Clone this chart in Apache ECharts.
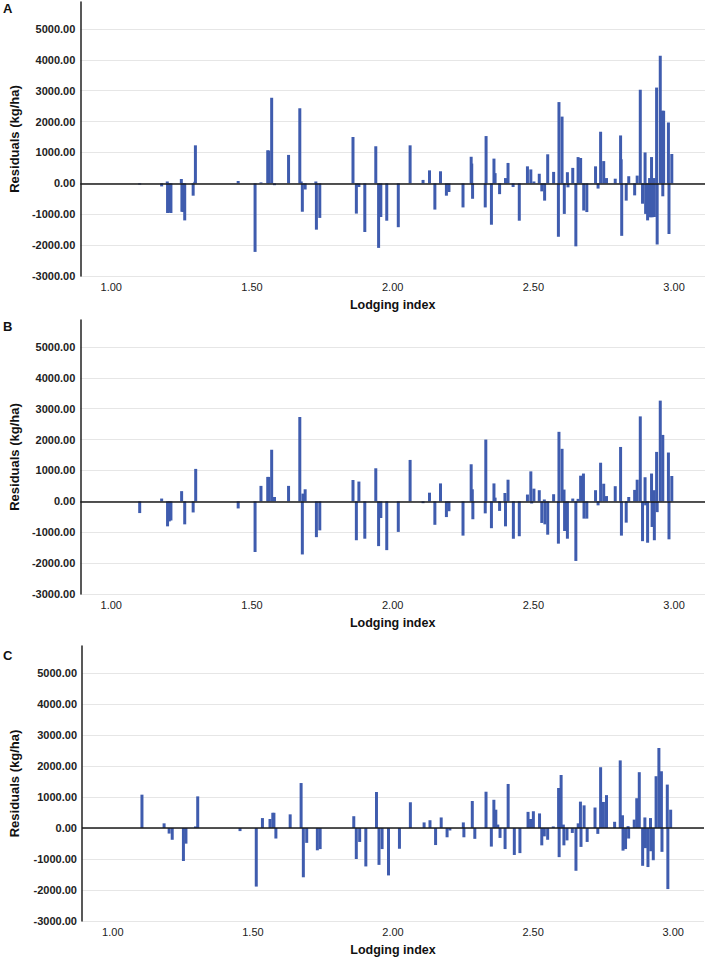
<!DOCTYPE html>
<html>
<head>
<meta charset="utf-8">
<script src="https://cdn.jsdelivr.net/npm/echarts@6/dist/echarts.min.js"></script>
<style>
  html, body { margin: 0; padding: 0; background: #fff; }
  #chart { width: 707px; height: 961px; }
</style>
</head>
<body>
<div id="chart"></div>
<script>
// x tick labels shared by all three panels
const tickValues = [1, 1.5, 2, 2.5, 3]
const panelLabels = ['A', 'B', 'C']

// Panel A
const lodgingA = [1.101, 1.179, 1.199, 1.200, 1.206, 1.212, 1.249, 1.251, 1.255, 1.261, 1.291, 1.297, 1.299, 1.451, 1.511, 1.532, 1.556, 1.560, 1.570, 1.580,
  1.630, 1.670, 1.675, 1.679, 1.689, 1.727, 1.729, 1.741, 1.859, 1.871, 1.880, 1.901, 1.940, 1.950, 1.958, 1.979, 2.020, 2.062, 2.108, 2.131,
  2.150, 2.170, 2.191, 2.200, 2.250, 2.279, 2.281, 2.284, 2.329, 2.332, 2.351, 2.360, 2.364, 2.380, 2.401, 2.410, 2.428, 2.450, 2.479, 2.491,
  2.502, 2.521, 2.530, 2.540, 2.551, 2.572, 2.589, 2.591, 2.602, 2.610, 2.621, 2.623, 2.640, 2.651, 2.659, 2.668, 2.679, 2.690, 2.721, 2.730,
  2.739, 2.750, 2.760, 2.791, 2.810, 2.812, 2.814, 2.830, 2.839, 2.860, 2.869, 2.880, 2.888, 2.897, 2.899, 2.906, 2.913, 2.914, 2.920, 2.922,
  2.929, 2.930, 2.938, 2.940, 2.951, 2.958, 2.960, 2.963, 2.980, 2.982, 2.992]
const residualA = [-40, -100, 60, -960, -950, -960, 140, -920, -930, -1200, -400, 50, 1230, 75, -2220, 30, 1070, 1060, 2770, -60,
  920, 2430, 60, -920, -200, 60, -1500, -1120, 1500, -980, -120, -1575, 1200, -2090, -1090, -1210, -1420, 1230, 110, 420,
  -850, 390, -400, -280, -780, 860, 640, -500, -780, 1530, -1340, 800, 330, -350, 170, 660, -120, -1210, 550, 450,
  60, 310, -260, -560, 940, 370, -1730, 2630, 2160, -990, 360, -130, 500, -2040, 850, 820, -880, -930, 550, -170,
  1670, 720, 170, 150, 1550, 780, -1700, -560, 230, -390, 250, 3030, -660, 1000, -990, -1200, 170, -1100, 850, -1100,
  170, -1090, 3100, -1980, 4130, 2350, -420, 2350, 1970, -1640, 950]

// Panel B
const lodgingB = [1.101, 1.179, 1.200, 1.206, 1.212, 1.250, 1.261, 1.291, 1.300, 1.451, 1.511, 1.532, 1.556, 1.560, 1.570, 1.580, 1.630, 1.670, 1.679, 1.681,
  1.689, 1.729, 1.741, 1.859, 1.871, 1.880, 1.901, 1.940, 1.950, 1.958, 1.979, 2.020, 2.062, 2.108, 2.131, 2.150, 2.170, 2.191, 2.200, 2.250,
  2.279, 2.283, 2.285, 2.329, 2.331, 2.351, 2.360, 2.364, 2.380, 2.399, 2.401, 2.410, 2.429, 2.450, 2.479, 2.491, 2.494, 2.502, 2.521, 2.530,
  2.539, 2.541, 2.551, 2.572, 2.589, 2.591, 2.602, 2.609, 2.611, 2.621, 2.640, 2.651, 2.659, 2.668, 2.678, 2.680, 2.690, 2.721, 2.730, 2.739,
  2.750, 2.760, 2.791, 2.810, 2.813, 2.830, 2.839, 2.860, 2.869, 2.880, 2.888, 2.897, 2.899, 2.906, 2.920, 2.922, 2.929, 2.930, 2.938, 2.940,
  2.951, 2.960, 2.980, 2.982, 2.992]
const residualB = [-380, 90, -810, -650, -620, 330, -745, -360, 1050, -230, -1640, 500, 790, 790, 1670, 140, 500, 2730, -1720, 250,
  390, -1160, -940, 690, -1260, 640, -1210, 1070, -1450, -540, -1580, -990, 1340, -60, 280, -760, 580, -510, -320, -1110,
  1200, 390, -580, -390, 2000, -870, 580, 120, -310, 270, -810, 700, -1210, -1130, 220, 970, -70, 410, 360, -700,
  60, -745, -1080, 230, -1370, 2250, 1700, 380, -960, -1210, 90, -1930, 80, 830, 900, -560, -560, 360, -130, 1250,
  570, 170, 490, 1760, -1110, -690, 140, 370, 700, 2750, -1290, 780, -130, -1340, 900, -830, 360, -1260, 1600, -350,
  3260, 2150, 1580, -1230, 820]

// Panel C
const lodgingC = [1.104, 1.183, 1.201, 1.212, 1.252, 1.261, 1.295, 1.303, 1.454, 1.512, 1.534, 1.561, 1.571, 1.575, 1.582, 1.633, 1.672, 1.680, 1.692, 1.730,
  1.740, 1.860, 1.869, 1.881, 1.903, 1.941, 1.950, 1.961, 1.984, 2.023, 2.062, 2.111, 2.132, 2.152, 2.172, 2.193, 2.203, 2.251, 2.253, 2.283,
  2.292, 2.332, 2.351, 2.360, 2.367, 2.374, 2.382, 2.400, 2.411, 2.433, 2.453, 2.482, 2.491, 2.501, 2.523, 2.531, 2.540, 2.552, 2.572, 2.591,
  2.593, 2.600, 2.608, 2.610, 2.621, 2.640, 2.653, 2.661, 2.669, 2.671, 2.682, 2.693, 2.721, 2.731, 2.741, 2.751, 2.762, 2.791, 2.811, 2.819,
  2.821, 2.830, 2.839, 2.841, 2.861, 2.870, 2.879, 2.891, 2.899, 2.901, 2.910, 2.919, 2.920, 2.929, 2.939, 2.949, 2.958, 2.960, 2.979, 2.981,
  2.991]
const residualC = [1075, 150, -180, -380, -1065, -505, 50, 1020, -100, -1890, 320, 290, 490, 490, -340, 440, 1450, -1590, -480, -720,
  -680, 380, -1000, -450, -1240, 1160, -1190, -680, -1530, -670, 830, 180, 250, -550, 340, -300, -80, 180, -300, 870,
  -350, 1170, -600, 910, 590, 110, -320, -680, 1420, -870, -810, 520, 290, 540, 470, -560, -270, -380, 50, 1290,
  -940, 1710, 110, -560, -400, -160, -1380, 150, 850, -610, 730, -450, 660, -190, 1960, 840, 1060, 200, 2180, 410,
  -730, -680, 60, -340, 270, 960, 1800, -1220, 340, -650, -1260, 320, -750, -1040, 1670, 2580, 1830, -770, 1400, -1970,
  590]

const panels = [
  { x: lodgingA, y: residualA },
  { x: lodgingB, y: residualB },
  { x: lodgingC, y: residualC }
]

// layout of the three stacked plots
const grids = [
  { left: 68, right: 2, top: 2, height: 274 },
  { left: 68, right: 2, top: 320, height: 274 },
  { left: 77, right: 3, top: 646, height: 275 }
]
const labelTops = [2, 320, 649]
const nameGaps = [52, 52, 61]

const font = 'Liberation Sans, Arial, sans-serif'
const barColor = '#3f5cae'

const chart = echarts.init(document.getElementById('chart'), null, { renderer: 'svg' })

const option = {
  animation: false,
  backgroundColor: '#fff',
  textStyle: { fontFamily: font },
  grid: grids,
  xAxis: grids.map((g, i) => ({
    type: 'value',
    gridIndex: i,
    min: 0.89,
    max: 3.11,
    name: 'Lodging index',
    nameLocation: 'middle',
    nameGap: 22,
    nameTextStyle: { fontFamily: font, fontSize: 12.5, fontWeight: 'bold', color: '#111' },
    axisLine: { show: false },
    axisTick: { show: false },
    splitLine: { show: false },
    axisLabel: {
      customValues: tickValues,
      formatter: v => v.toFixed(2),
      fontFamily: font,
      fontSize: 11,
      color: '#222',
      margin: 5
    }
  })),
  yAxis: grids.map((g, i) => ({
    type: 'value',
    gridIndex: i,
    min: -3000,
    max: 5870,
    interval: 1000,
    name: 'Residuals (kg/ha)',
    nameLocation: 'middle',
    nameGap: nameGaps[i],
    nameTextStyle: { fontFamily: font, fontSize: 13, fontWeight: 'bold', color: '#111' },
    axisLine: { show: true, lineStyle: { color: '#222', width: 1.5 } },
    axisTick: { show: false },
    splitLine: { show: true, showMaxLine: false, lineStyle: { color: '#e6e6e6', width: 1 } },
    axisLabel: {
      formatter: v => (v % 1000 === 0 ? v.toFixed(2) : ''),
      fontFamily: font,
      fontSize: 11,
      fontWeight: 'bold',
      color: '#222',
      margin: 5
    }
  })),
  series: panels.map((p, i) => ({
    type: 'bar',
    xAxisIndex: i,
    yAxisIndex: i,
    barWidth: 3,
    itemStyle: { color: barColor },
    data: p.x.map((x, k) => [x, p.y[k]]),
    markLine: {
      silent: true,
      symbol: 'none',
      label: { show: false },
      lineStyle: { color: '#1a1a1a', width: 1.5, type: 'solid' },
      data: [{ yAxis: 0 }]
    }
  })),
  graphic: panelLabels.map((t, i) => ({
    type: 'text',
    left: 3,
    top: labelTops[i],
    style: { text: t, fontFamily: font, fontSize: 13, fontWeight: 'bold', fill: '#111' }
  }))
}

chart.setOption(option)
</script>
</body>
</html>
